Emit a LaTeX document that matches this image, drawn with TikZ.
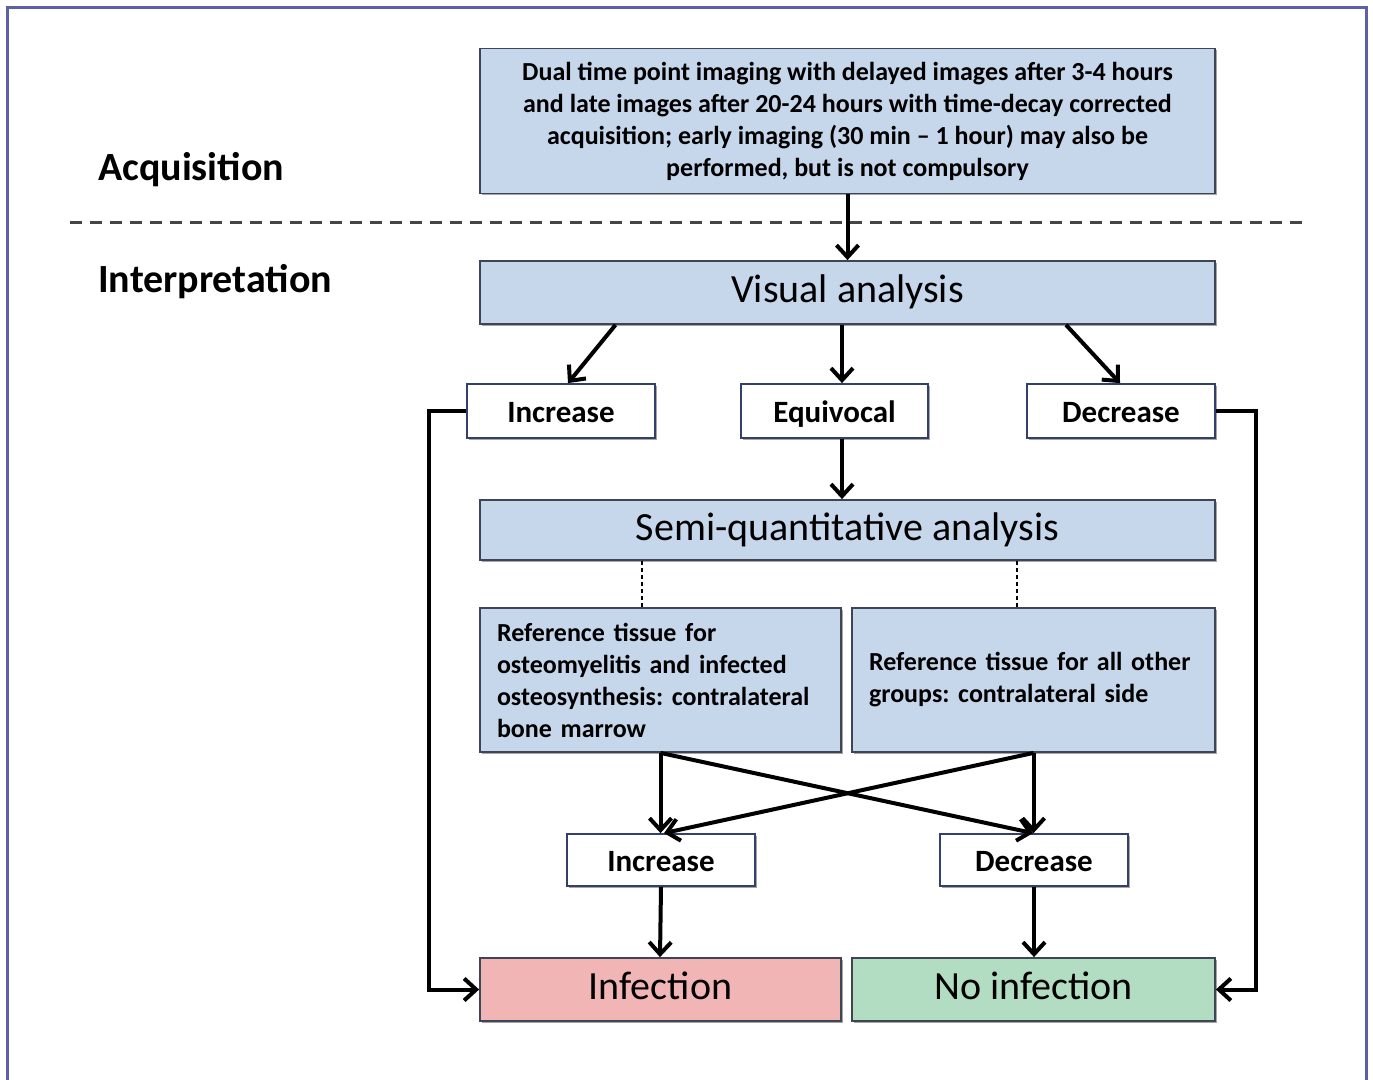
\documentclass[tikz,border=0pt]{standalone}
\usepackage{fontspec}
\setmainfont{Carlito}
\usetikzlibrary{arrows.meta,shadows}
\definecolor{lightblue}{HTML}{C6D7EC}
\definecolor{pinkfill}{HTML}{F2B5B6}
\definecolor{greenfill}{HTML}{B3DDC2}
\definecolor{bordercol}{HTML}{3E4656}
\definecolor{wbordercol}{HTML}{34406A}
\definecolor{framecol}{HTML}{5F5FA8}
\definecolor{sepcol}{HTML}{454545}
\tikzset{
  box/.style={draw=bordercol, line width=1.8pt, fill=lightblue, inner sep=0pt, align=center,
    drop shadow={shadow xshift=1.5pt, shadow yshift=-1.5pt, opacity=0.35, fill=black}},
  wbox/.style={box, draw=wbordercol, fill=white, font=\fontsize{31}{36}\selectfont\bfseries,
    text height=24pt, text depth=2pt},
  smalltxt/.style={font=\fontsize{26}{32}\selectfont\bfseries},
  bigtxt/.style={font=\fontsize{40}{44}\selectfont, text height=28pt, text depth=8pt},
  conn/.style={line width=4pt, draw=black, -{Straight Barb[length=12pt,width=22pt,line width=4pt]}},
  dline/.style={line width=1.6pt, draw=black, dash pattern=on 4pt off 3pt},
  sideline/.style={font=\fontsize{40}{44}\selectfont\bfseries, anchor=base west, inner sep=0pt},
}
\begin{document}
\frenchspacing
\begin{tikzpicture}[x=1pt, y=-1pt]
\useasboundingbox (0,0) rectangle (1373,1079);
% outer frame
\coordinate (fbl) at (7,1090);
\coordinate (ftl) at (7,7);
\coordinate (ftr) at (1366,7);
\coordinate (fbr) at (1366,1090);
\draw[framecol, line width=3pt] (fbl) -- (ftl) -- (ftr) -- (fbr);
% separator
\coordinate (sepL) at (70,222);
\coordinate (sepR) at (1302,222);
\draw[sepcol, line width=3pt, dash pattern=on 12pt off 8pt] (sepL) -- (sepR);
% side labels
\node[sideline] (acq) at (98,180) {Acquisition};
\node[sideline] (interp) at (98,292) {Interpretation};
% boxes
\node[box, smalltxt, minimum width=735pt, minimum height=145pt] (top) at (847.5,121)
  {Dual time point imaging with delayed images after 3-4 hours\\
   and late images after 20-24 hours with time-decay corrected\\
   acquisition; early imaging (30 min -- 1 hour) may also be\\
   performed, but is not compulsory};
\node[box, bigtxt, minimum width=735pt, minimum height=63pt] (vis) at (847.5,292.5) {Visual analysis};
\node[wbox, minimum width=188pt, minimum height=54pt] (inc1) at (561,411) {Increase};
\node[wbox, minimum width=187pt, minimum height=54pt] (equ) at (834.5,411) {Equivocal};
\node[wbox, minimum width=188pt, minimum height=54pt] (dec1) at (1121,411) {Decrease};
\node[box, bigtxt, minimum width=735pt, minimum height=60pt] (semi) at (847.5,530) {Semi-quantitative analysis};
\node[box, smalltxt, minimum width=361pt, minimum height=144pt, align=left, text width=327pt] (ref1) at (660.5,680)
  {Reference tissue for\\ osteomyelitis and infected\\ osteosynthesis: contralateral\\ bone marrow};
\node[box, smalltxt, minimum width=363pt, minimum height=144pt, align=left, text width=329pt] (ref2) at (1033.5,680)
  {Reference tissue for all other\\ groups: contralateral side};
\node[wbox, minimum width=188pt, minimum height=52pt] (inc2) at (661,860) {Increase};
\node[wbox, minimum width=188pt, minimum height=52pt] (dec2) at (1034,860) {Decrease};
\node[box, bigtxt, fill=pinkfill, minimum width=361pt, minimum height=63pt] (inf) at (660.5,989.5) {Infection};
\node[box, bigtxt, fill=greenfill, minimum width=363pt, minimum height=63pt] (noinf) at (1033.5,989.5) {No infection};
% connectors
\draw[conn] (top.south) -- (vis.north);
\draw[conn] ([xshift=-232pt]vis.south) -- ([xshift=7pt]inc1.north);
\draw[conn] ([xshift=-5.5pt]vis.south) -- ([xshift=7.5pt]equ.north);
\draw[conn] ([xshift=218.5pt]vis.south) -- ([xshift=-1pt]dec1.north);
\draw[conn] ([xshift=7.5pt]equ.south) -- ([xshift=-5.5pt]semi.north);
\draw[dline] ([xshift=-205.5pt]semi.south) -- ([xshift=-18.5pt]ref1.north);
\draw[dline] ([xshift=169.5pt]semi.south) -- ([xshift=-16.5pt]ref2.north);
\draw[conn] (ref1.south) -- ([xshift=-0.5pt]inc2.north);
\draw[conn] (ref1.south) -- ([xshift=-1pt]dec2.north);
\draw[conn] (ref2.south) -- ([xshift=-0.5pt]dec2.north);
\draw[conn] (ref2.south) -- ([xshift=3pt]inc2.north);
\draw[conn] (inc2.south) -- ([xshift=-0.5pt]inf.north);
\draw[conn] (dec2.south) -- ([xshift=0.5pt]noinf.north);
\draw[conn] (inc1.west) -- ++(-37pt,0) |- (inf.west);
\draw[conn] (dec1.east) -- ++(40pt,0) |- (noinf.east);
\end{tikzpicture}
\end{document}
